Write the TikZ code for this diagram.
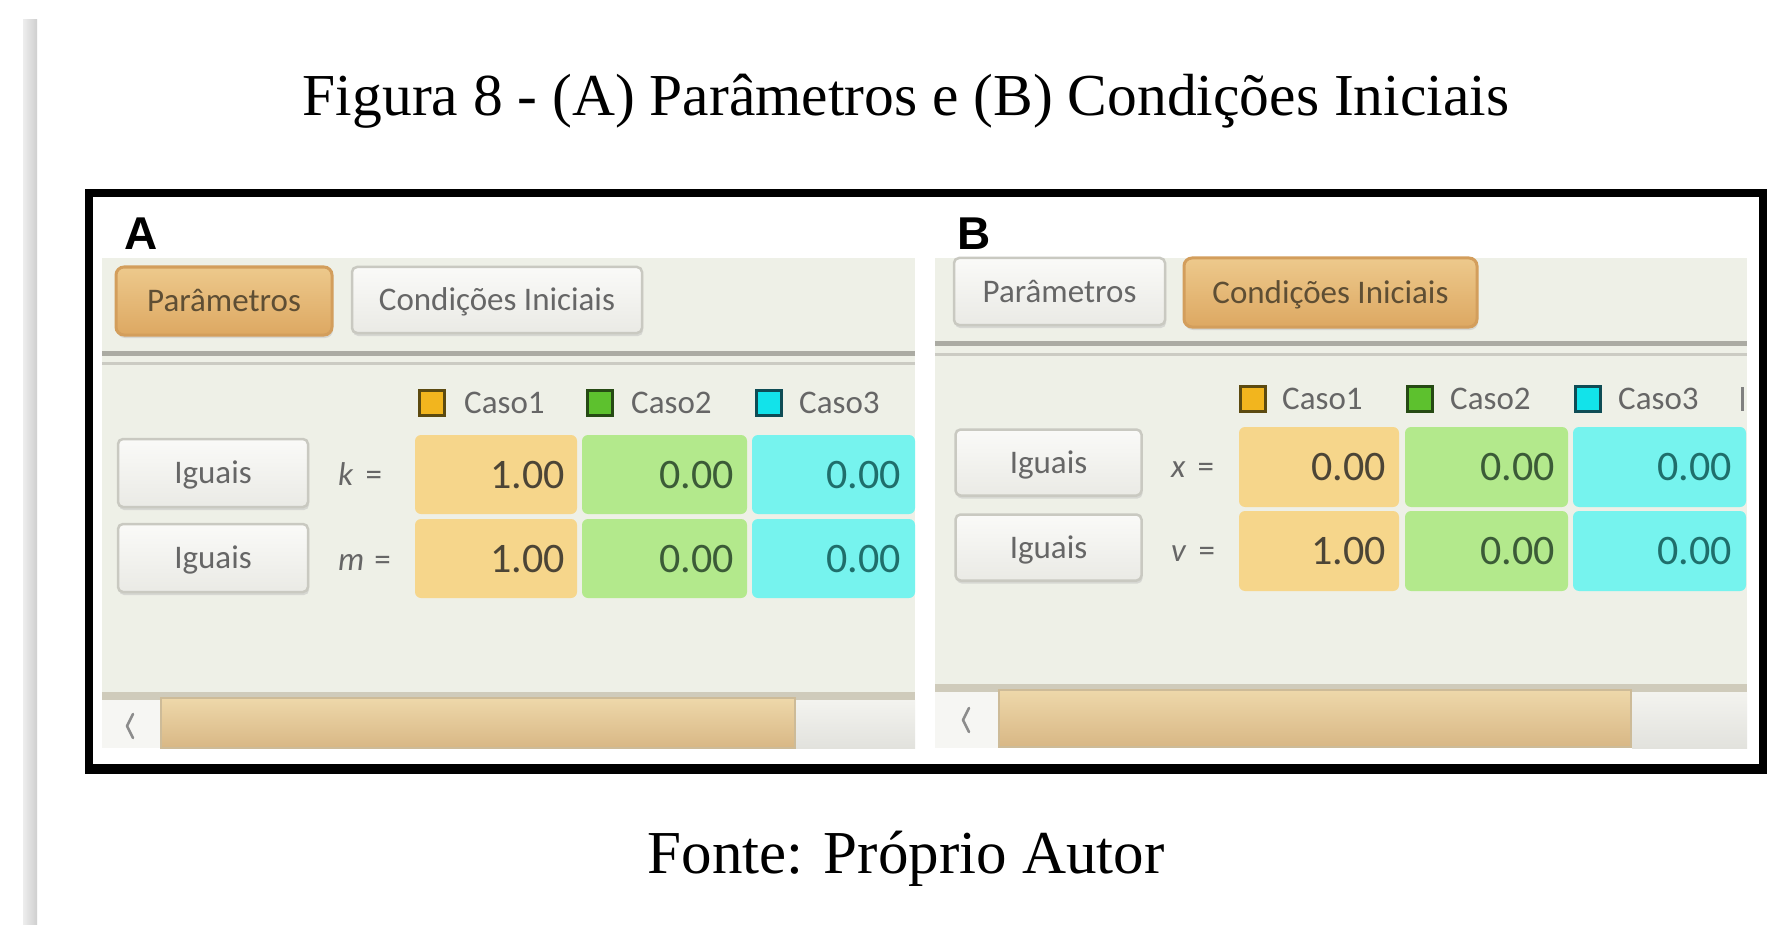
\documentclass[tikz,border=0pt]{standalone}
\usepackage{fontspec}
\setmainfont{Liberation Serif}
\newfontfamily\uifont{Carlito}
\newfontfamily\labfont{Liberation Sans}
\usetikzlibrary{shadows}
\definecolor{panelbg}{HTML}{EEF0E7}
\definecolor{selT}{HTML}{EDC98C}
\definecolor{selB}{HTML}{DDA862}
\definecolor{selD}{HTML}{D39E5C}
\definecolor{selTxt}{HTML}{5E4E34}
\definecolor{btnT}{HTML}{FAFAF8}
\definecolor{btnB}{HTML}{EAEAE5}
\definecolor{btnD}{HTML}{C9C9C1}
\definecolor{cellO}{HTML}{F6D68B}
\definecolor{cellG}{HTML}{B3E98C}
\definecolor{cellC}{HTML}{76F3EE}
\definecolor{txtO}{HTML}{4C4536}
\definecolor{txtG}{HTML}{3B5B37}
\definecolor{txtC}{HTML}{1F6E6B}
\definecolor{sqO}{HTML}{F2B51E}
\definecolor{sqOd}{HTML}{5C4A10}
\definecolor{sqG}{HTML}{5DC12E}
\definecolor{sqGd}{HTML}{264A14}
\definecolor{sqC}{HTML}{12E3EA}
\definecolor{sqCd}{HTML}{0E4C55}
\definecolor{uigray}{HTML}{666666}
\definecolor{sepD}{HTML}{ABABA3}
\definecolor{sepL}{HTML}{CBCBC3}
\definecolor{scrLine}{HTML}{CFCBBB}
\definecolor{sliT}{HTML}{EED8AA}
\definecolor{sliB}{HTML}{D8B785}
\definecolor{sliD}{HTML}{CDBB98}
\definecolor{scrBtn}{HTML}{F6F6F3}
\definecolor{scrT}{HTML}{F3F3EF}
\definecolor{scrB}{HTML}{E2E2DD}
\definecolor{barL}{HTML}{EDEDED}
\definecolor{barR}{HTML}{CFCFCF}
\begin{document}
\begin{tikzpicture}[x=1pt,y=-1pt,
  uitext/.style={font=\uifont\fontsize{33}{36}\selectfont, text height=21pt, text depth=0pt},
  tabsel/.style={uitext, rounded corners=8pt, draw=selD, line width=3pt, top color=selT, bottom color=selB, inner sep=0pt, text=selTxt,
    drop shadow={shadow xshift=1pt, shadow yshift=-3pt, fill=black!25, opacity=0.5}},
  btn/.style={uitext, rounded corners=5pt, draw=btnD, line width=2.5pt, top color=btnT, bottom color=btnB, inner sep=0pt, text=uigray,
    drop shadow={shadow xshift=1pt, shadow yshift=-3pt, fill=black!25, opacity=0.5}},
  cell/.style={rounded corners=6pt, draw=none, inner sep=0pt},
  val/.style={anchor=east, inner sep=0pt, font=\uifont\fontsize{42}{44}\selectfont, text height=27pt, text depth=0pt},
  leg/.style={uitext, anchor=west, inner sep=0pt, text=uigray},
  lbl/.style={uitext, anchor=west, inner sep=0pt, text=uigray},
  sq/.style={draw, line width=3pt, minimum size=25pt, inner sep=0pt},
  panlab/.style={anchor=base west, inner sep=0pt, font=\labfont\bfseries\fontsize{46}{48}\selectfont},
  capt/.style={anchor=base, inner sep=0pt, font=\fontsize{59.5}{62}\selectfont},
  captb/.style={anchor=base, inner sep=0pt, font=\fontsize{61}{64}\selectfont}
]
\useasboundingbox (0,0) rectangle (1779,925);
\fill[white] (0,0) rectangle (1779,925);
% left page bar
\fill[left color=barL, right color=barR] (23,20) rectangle (37,925);

% titles
\node[capt] (title) at (906,116) {Figura 8 - (A) Parâmetros e (B) Condições Iniciais};
\node[captb] (fonte) at (906,873) {Fonte: Próprio Autor};

% ---------------- panel A ----------------
\fill[panelbg] (102,258) rectangle (915,748);
\node[panlab] (labA) at (124,250) {A};
\node[tabsel, minimum width=216pt, minimum height=68pt] (tabAP) at (224,301) {Parâmetros};
\node[btn, minimum width=290pt, minimum height=66pt] (tabAC) at (497,300) {Condições Iniciais};
\draw[sepD, line width=5pt] (102,353) -- (915,353);
\draw[sepL, line width=3pt] (102,363) -- (915,363);
% legend
\node[sq, draw=sqOd, fill=sqO] (sqA1) at (432,403) {};
\node[leg] (legA1) at (464,403) {Caso1};
\node[sq, draw=sqGd, fill=sqG] (sqA2) at (600,403) {};
\node[leg] (legA2) at (631,403) {Caso2};
\node[sq, draw=sqCd, fill=sqC] (sqA3) at (769,403) {};
\node[leg] (legA3) at (799,403) {Caso3};
% rows
\node[btn, minimum width=190pt, minimum height=68pt] (igA1) at (213,473) {Iguais};
\node[btn, minimum width=190pt, minimum height=68pt] (igA2) at (213,558) {Iguais};
\node[lbl] (kA) at (338,475) {\textit{k}\hspace{12pt}=};
\node[lbl] (mA) at (338,560) {\textit{m}\hspace{10pt}=};
\node[cell, fill=cellO, minimum width=162pt, minimum height=79pt] (a11) at (496,474.5) {};
\node[cell, fill=cellG, minimum width=165pt, minimum height=79pt] (a12) at (664.5,474.5) {};
\node[cell, fill=cellC, minimum width=163pt, minimum height=79pt] (a13) at (833.5,474.5) {};
\node[cell, fill=cellO, minimum width=162pt, minimum height=79pt] (a21) at (496,558.5) {};
\node[cell, fill=cellG, minimum width=165pt, minimum height=79pt] (a22) at (664.5,558.5) {};
\node[cell, fill=cellC, minimum width=163pt, minimum height=79pt] (a23) at (833.5,558.5) {};
\node[val, text=txtO] (a11v) at ([xshift=-12pt]a11.east) {1.00};
\node[val, text=txtG] (a12v) at ([xshift=-13pt]a12.east) {0.00};
\node[val, text=txtC] (a13v) at ([xshift=-14pt]a13.east) {0.00};
\node[val, text=txtO] (a21v) at ([xshift=-12pt]a21.east) {1.00};
\node[val, text=txtG] (a22v) at ([xshift=-13pt]a22.east) {0.00};
\node[val, text=txtC] (a23v) at ([xshift=-14pt]a23.east) {0.00};
% scrollbar
\fill[scrLine] (102,692) rectangle (915,700);
\fill[scrBtn] (102,700) rectangle (161,748);
\draw[sliD, line width=1.5pt, top color=sliT, bottom color=sliB] (161,698) rectangle (795,748);
\fill[top color=scrT, bottom color=scrB] (796,700) rectangle (915,748);
\draw[black!45, line width=2.5pt, line cap=round, line join=round] (133,714) -- (127,726) -- (133,738);

% ---------------- panel B ----------------
\fill[panelbg] (935,258) rectangle (1747,748);
\node[panlab] (labB) at (957,250) {B};
\node[btn, minimum width=211pt, minimum height=67pt] (tabBP) at (1059.5,291.5) {Parâmetros};
\node[tabsel, minimum width=293pt, minimum height=69pt] (tabBC) at (1330.5,292.5) {Condições Iniciais};
\draw[sepD, line width=5pt] (935,343) -- (1747,343);
\draw[sepL, line width=3pt] (935,354) -- (1747,354);
% legend
\node[sq, draw=sqOd, fill=sqO] (sqB1) at (1253,399) {};
\node[leg] (legB1) at (1282,399) {Caso1};
\node[sq, draw=sqGd, fill=sqG] (sqB2) at (1420,399) {};
\node[leg] (legB2) at (1450,399) {Caso2};
\node[sq, draw=sqCd, fill=sqC] (sqB3) at (1588,399) {};
\node[leg] (legB3) at (1618,399) {Caso3};
\fill[black!50] (1741,387) rectangle (1744,411);
% rows
\node[btn, minimum width=186pt, minimum height=66pt] (igB1) at (1048.5,462.5) {Iguais};
\node[btn, minimum width=186pt, minimum height=66pt] (igB2) at (1048.5,547.5) {Iguais};
\node[lbl] (xB) at (1171,467) {\textit{x}\hspace{12pt}=};
\node[lbl] (vB) at (1171,551) {\textit{v}\hspace{12pt}=};
\node[cell, fill=cellO, minimum width=160pt, minimum height=80pt] (b11) at (1319,467) {};
\node[cell, fill=cellG, minimum width=163pt, minimum height=80pt] (b12) at (1486.5,467) {};
\node[cell, fill=cellC, minimum width=173pt, minimum height=80pt] (b13) at (1659.5,467) {};
\node[cell, fill=cellO, minimum width=160pt, minimum height=80pt] (b21) at (1319,551) {};
\node[cell, fill=cellG, minimum width=163pt, minimum height=80pt] (b22) at (1486.5,551) {};
\node[cell, fill=cellC, minimum width=173pt, minimum height=80pt] (b23) at (1659.5,551) {};
\node[val, text=txtO] (b11v) at ([xshift=-13pt]b11.east) {0.00};
\node[val, text=txtG] (b12v) at ([xshift=-13pt]b12.east) {0.00};
\node[val, text=txtC] (b13v) at ([xshift=-14pt]b13.east) {0.00};
\node[val, text=txtO] (b21v) at ([xshift=-13pt]b21.east) {1.00};
\node[val, text=txtG] (b22v) at ([xshift=-13pt]b22.east) {0.00};
\node[val, text=txtC] (b23v) at ([xshift=-14pt]b23.east) {0.00};
% scrollbar
\fill[scrLine] (935,684) rectangle (1747,692);
\fill[scrBtn] (935,692) rectangle (999,748);
\draw[sliD, line width=1.5pt, top color=sliT, bottom color=sliB] (999,690) rectangle (1631,747);
\fill[top color=scrT, bottom color=scrB] (1632,692) rectangle (1747,748);
\draw[black!45, line width=2.5pt, line cap=round, line join=round] (969,708) -- (963,720) -- (969,732);

% frame
\draw[black, line width=8pt] (89,193) rectangle (1763,768);
\fill[black] (85,764) rectangle (1767,774);
\end{tikzpicture}
\end{document}
